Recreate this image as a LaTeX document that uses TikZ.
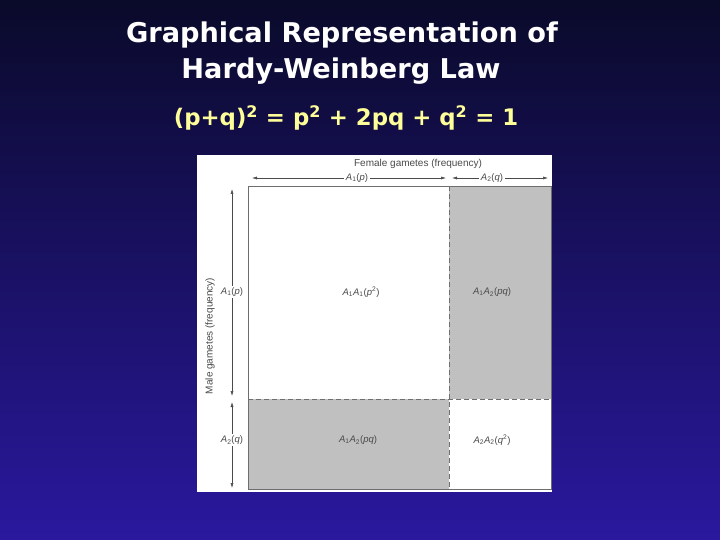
\documentclass[tikz,border=0pt]{standalone}
\usepackage{fontspec}
\setmainfont{DejaVu Sans}
\newfontfamily\panelfont{Liberation Sans}
\usetikzlibrary{arrows.meta}
\definecolor{bgtop}{HTML}{0A0A2A}
\definecolor{bgbot}{HTML}{2A189E}
\definecolor{cellgray}{HTML}{C0C0C0}
\definecolor{inkgray}{HTML}{4A4A4A}
\definecolor{eqyellow}{HTML}{FFFF99}
\tikzset{
  titletext/.style={text=white, font=\bfseries\fontsize{27.2}{30}\selectfont, inner sep=0pt},
  eqtext/.style={text=eqyellow, font=\bfseries\fontsize{22.8}{24}\selectfont, inner sep=0pt},
  small/.style={text=inkgray, font=\panelfont\fontsize{9.5}{10}\selectfont, inner sep=1pt},
  cellline/.style={draw=inkgray!80, line width=0.8pt},
  divider/.style={draw=inkgray!80, dash pattern=on 5pt off 3pt, line width=0.8pt},
  dimarrow/.style={draw=inkgray, line width=0.5pt, {Latex[length=5pt,width=3pt]}-{Latex[length=5pt,width=3pt]}},
  lblfill/.style={fill=white, inner sep=1.5pt}
}
\begin{document}
\begin{tikzpicture}[x=1pt,y=-1pt]
\useasboundingbox (0,0) rectangle (720,540);
\shade[top color=bgtop, bottom color=bgbot] (0,0) rectangle (720,540);
% title
\node[titletext] (t1) at (342,35) {Graphical Representation of};
\node[titletext] (t2) at (341,71) {Hardy-Weinberg Law};
\node[eqtext] (eq) at (346,118) {(p+q)\textsuperscript{2} = p\textsuperscript{2} + 2pq + q\textsuperscript{2} = 1};
% panel
\fill[white] (197,155) rectangle (552,492);
\fill[cellgray] (449,186) rectangle (551,399);
\fill[cellgray] (248,399) rectangle (449,489);
\draw[cellline] (248,186) rectangle (551,489);
\draw[divider] (449,186) -- (449,489);
\draw[divider] (248,399) -- (551,399);
% top labels
\node[small, font=\panelfont\fontsize{10}{11}\selectfont] (fem) at (418,164) {Female gametes (frequency)};
\coordinate (ha) at (252,178);
\coordinate (hb) at (446,178);
\coordinate (hc) at (452,178);
\coordinate (hd) at (548,178);
\draw[dimarrow] (ha) -- (hb);
\draw[dimarrow] (hc) -- (hd);
\node[small, lblfill] (hp) at (357,178) {\textit{A}\textsubscript{1}(\textit{p})};
\node[small, lblfill] (hq) at (492,178) {\textit{A}\textsubscript{2}(\textit{q})};
% left labels
\node[small, rotate=90, font=\panelfont\fontsize{10}{11}\selectfont] (male) at (210,336) {Male gametes (frequency)};
\coordinate (va) at (232,189);
\coordinate (vb) at (232,396);
\coordinate (vc) at (232,402);
\coordinate (vd) at (232,488);
\draw[dimarrow] (va) -- (vb);
\draw[dimarrow] (vc) -- (vd);
\node[small, lblfill] (vp) at (232,292) {\textit{A}\textsubscript{1}(\textit{p})};
\node[small, lblfill] (vq) at (232,440) {\textit{A}\textsubscript{2}(\textit{q})};
% cells
\node[small] (c11) at (361,292) {\textit{A}\textsubscript{1}\textit{A}\textsubscript{1}(\textit{p}\textsuperscript{2})};
\node[small] (c12) at (492,292) {\textit{A}\textsubscript{1}\textit{A}\textsubscript{2}(\textit{pq})};
\node[small] (c21) at (358,440) {\textit{A}\textsubscript{1}\textit{A}\textsubscript{2}(\textit{pq})};
\node[small] (c22) at (492,440) {\textit{A}\textsubscript{2}\textit{A}\textsubscript{2}(\textit{q}\textsuperscript{2})};
\end{tikzpicture}
\end{document}
